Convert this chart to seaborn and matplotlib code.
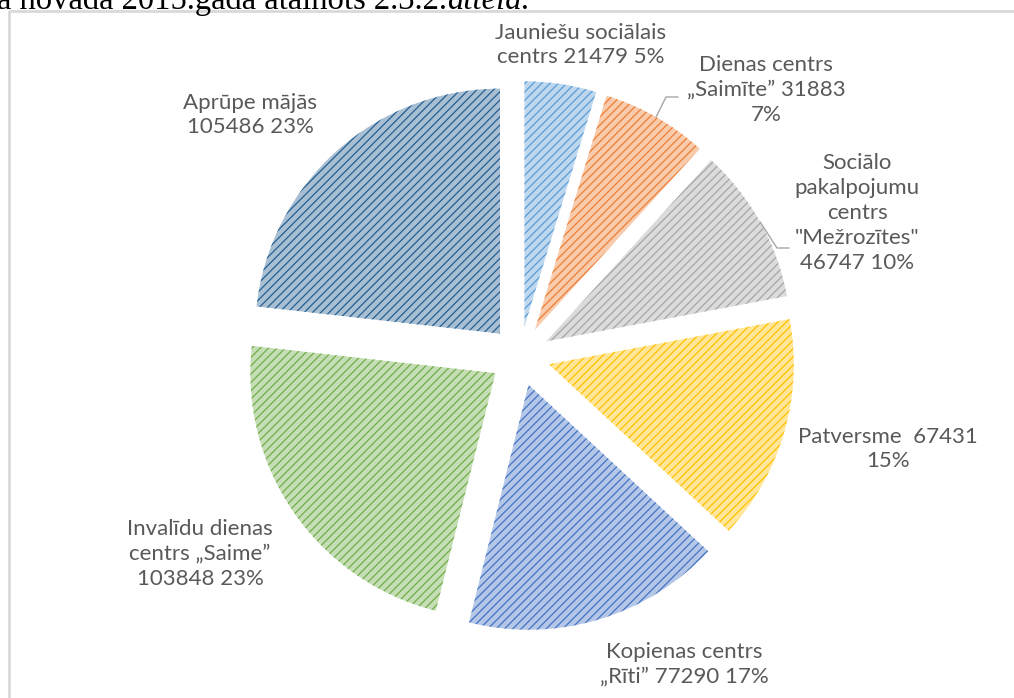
import numpy as np
import matplotlib.pyplot as plt
import seaborn as sns

# pie data (clockwise from the top)
names = ["Jauniešu sociālais\ncentrs", "Dienas centrs\n„Saimīte”",
         "Sociālo\npakalpojumu\ncentrs\n\"Mežrozītes\"", "Patversme ",
         "Kopienas centrs\n„Rīti”", "Invalīdu dienas\ncentrs „Saime”",
         "Aprūpe mājās"]
values = [21479, 31883, 46747, 67431, 77290, 103848, 105486]
colors = ["#5B9BD5", "#ED7D31", "#A5A5A5", "#FFC000",
          "#4472C4", "#70AD47", "#255E91"]

# label layout: separators and centres (pixels, image coords)
sep_val = [" ", " ", "\n", " ", " ", "\n", "\n"]
sep_pct = [" ", "\n", " ", "\n", " ", " ", " "]
label_xy = [(581, 45), (766, 90), (857, 213), (888, 449),
            (684, 664), (200, 554), (250, 115)]

W, H = 1014, 698
sns.set_theme(style="white")
plt.rcParams["font.family"] = ["Lato", "DejaVu Sans"]
plt.rcParams["hatch.linewidth"] = 0.9

fig = plt.figure(figsize=(W / 100, H / 100), dpi=100)
ax = fig.add_axes([0, 0, 1, 1])

total = sum(values)
pcts = [round(v / total * 100) for v in values]

cx, cy, R, expl = 520, H - 356, 245, 30
wedges, _ = ax.pie(values, colors=colors, startangle=90, counterclock=False,
                   center=(cx, cy), radius=R, explode=[expl] * len(values),
                   wedgeprops=dict(linewidth=0))
pal = sns.color_palette(colors)
for w, c in zip(wedges, pal):
    tint = tuple(0.4 * np.array(c) + 0.6)
    w.set_facecolor(tint)
    w.set_edgecolor(c)
    w.set_hatch("////")
    w.set_linewidth(0)

ax.set_xlim(0, W)
ax.set_ylim(0, H)
ax.set_aspect("auto")
ax.axis("off")

for i in range(len(values)):
    txt = f"{names[i]}{sep_val[i]}{values[i]}{sep_pct[i]}{pcts[i]}%"
    x, y = label_xy[i]
    ax.text(x, H - y, txt, ha="center", va="center", fontsize=16,
            color="#595959", linespacing=1.3, multialignment="center")

# leader lines for two labels
fracs = np.cumsum([0] + values) / total
for i, (tx, ty) in [(1, (678, 97)), (2, (789, 248))]:
    mid = np.deg2rad(90 - 360 * (fracs[i] + fracs[i + 1]) / 2)
    ox, oy = cx + expl * np.cos(mid), cy + expl * np.sin(mid)
    px, py = ox + R * np.cos(mid), oy + R * np.sin(mid)
    ax.plot([px, tx - 12, tx], [py, H - ty, H - ty], color="#A6A6A6", lw=1)

# chart frame
ax.plot([9, 9, W + 5], [-5, H - 11, H - 11], color="#D9D9D9", lw=2)

# cut-off document line above the chart
t = fig.text(-3 / W, 1 - 9 / H, "a novada 2015.gada atainots 2.3.2.",
             family="Liberation Serif", fontsize=23.5, color="black",
             va="baseline")
fig.canvas.draw()
bb = t.get_window_extent()
fig.text(bb.x1 / W, 1 - 9 / H, "attēlā.", family="Liberation Serif",
         style="italic", fontsize=23.5, color="black", va="baseline")

fig.savefig("out.png", dpi=100)
